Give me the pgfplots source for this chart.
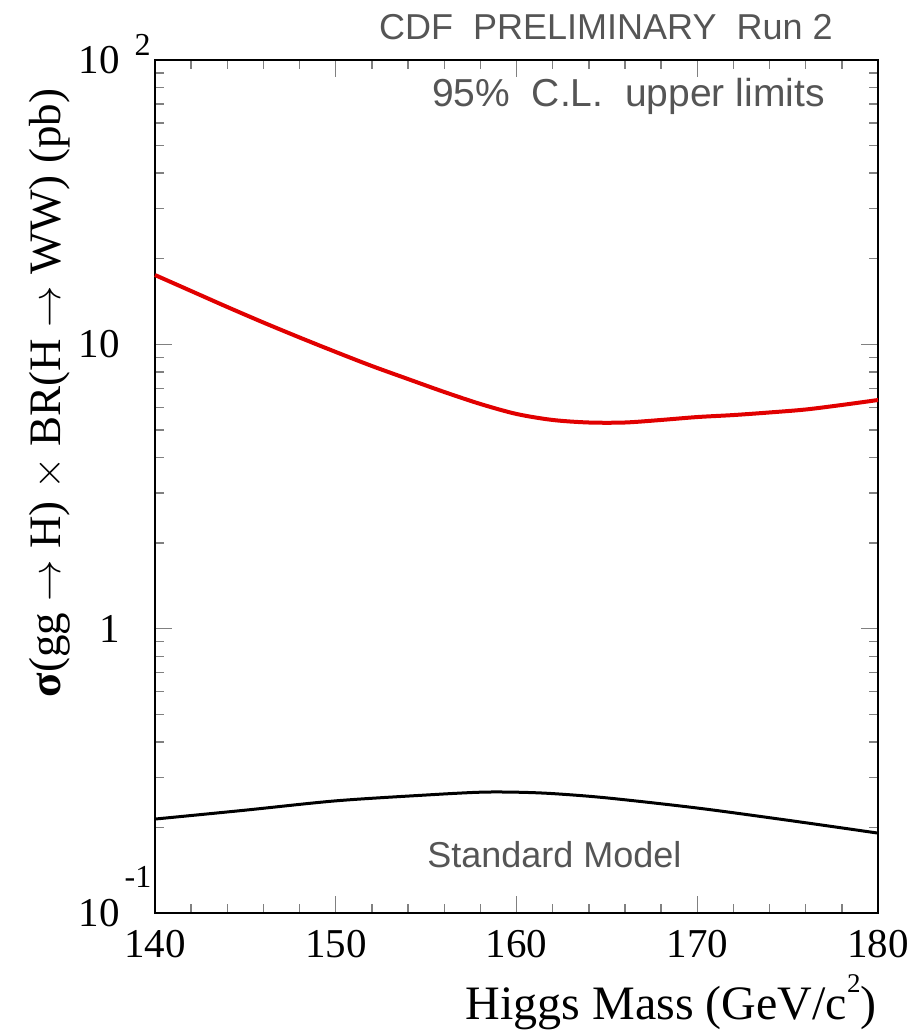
\documentclass[border=0pt]{standalone}
\usepackage{fontspec}
\setmainfont{Liberation Serif}
\newfontfamily\annfont{Liberation Sans}
\usepackage{pgfplots}
\pgfplotsset{compat=1.18}
\definecolor{anngray}{RGB}{85,85,85}
\definecolor{limred}{RGB}{225,0,0}
\begin{document}
\begin{tikzpicture}
\path[use as bounding box] (-77.5pt,-59pt) rectangle (378pt,456.5pt);
\begin{axis}[
  at={(0,0)}, anchor=south west,
  scale only axis, width=361.5pt, height=426.5pt,
  xmin=140, xmax=180, ymin=0.1, ymax=100,
  ymode=log,
  axis line style={line width=1.3pt},
  tick style={gray, line width=0.7pt},
  tick align=inside,
  xtick={140,150,160,170,180},
  xticklabels={140,150,160,170,180},
  minor x tick num=4,
  major tick length=8.5pt, minor tick length=4.5pt,
  ytick={0.1,1,10,100},
  yticklabels={%
    10\rlap{\kern2.5pt\smash{\raisebox{19.5pt}{\fontsize{16}{16}\selectfont -1}}},
    1,
    10,
    10\rlap{\kern7.5pt\smash{\raisebox{9pt}{\fontsize{16}{16}\selectfont 2}}}},
  xticklabel style={inner sep=0pt, yshift=-8.5pt, font=\fontsize{20.5}{24}\selectfont},
  yticklabel style={inner sep=0pt, xshift=-17.5pt, font=\fontsize{20.5}{24}\selectfont},
  clip=false,
]
\addplot[limred, line width=2pt, smooth] coordinates {
(140,17.53) (142,15.4) (144,13.53) (146,11.93) (148,10.57) (150,9.4)
(152,8.39) (154,7.55) (156,6.8) (158,6.17) (160,5.69) (162,5.42)
(164,5.31) (166,5.31) (168,5.42) (170,5.55) (172,5.64) (174,5.76)
(176,5.9) (178,6.12) (180,6.37)
};
\addplot[black, line width=1.5pt, smooth] coordinates {
(140,0.214) (145,0.230) (150,0.248) (155,0.260) (158,0.266) (160,0.266)
(162,0.263) (165,0.254) (170,0.234) (175,0.212) (180,0.191)
};
\node[anchor=base east, text=anngray, inner sep=0pt, font=\annfont\fontsize{18}{20}\selectfont]
  at (rel axis cs:0.9378,1.0246) {CDF\ \ PRELIMINARY\ \ Run 2};
\node[anchor=base east, text=anngray, inner sep=0pt, font=\annfont\fontsize{19.5}{22}\selectfont]
  at (rel axis cs:0.9267,0.9449) {95\%\ \ C.L.\ \ upper limits};
\node[anchor=base west, text=anngray, inner sep=0pt, font=\annfont\fontsize{18}{20}\selectfont]
  at (rel axis cs:0.376,0.0528) {Standard Model};
\node[anchor=base east, inner sep=0pt, font=\fontsize{24}{28}\selectfont]
  at (rel axis cs:0.9986,-0.1254) {Higgs Mass (GeV/c\raisebox{13.5pt}{\fontsize{13.5}{14}\selectfont 2})};
\node[anchor=base, rotate=90, inner sep=0pt, font=\fontsize{22.5}{26}\selectfont]
  at (rel axis cs:-0.1314,0.6096) {{\bfseries σ}(gg $\rightarrow$ H) $\times$ BR(H $\rightarrow$ WW) (pb)};
\end{axis}
\end{tikzpicture}
\end{document}
